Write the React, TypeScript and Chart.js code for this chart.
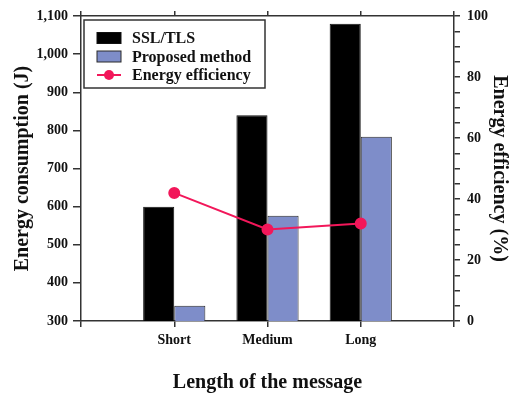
import React, { useEffect, useRef } from "react";
import { Chart, registerables } from "chart.js";

Chart.register(...registerables);

const categories = ["Short", "Medium", "Long"];
const sslTls = [600, 840, 1080];
const proposed = [340, 576, 783];
const efficiency = [42, 30, 32];
const leftTicks = { min: 300, max: 1100, step: 100 };
const rightTicks = { min: 0, max: 100, step: 5, labelEvery: 20 };

const FONT = '"Liberation Serif", "Times New Roman", serif';
const AXIS = "#333333";
const TEXT = "#111111";
const RED = "#F2175A";
const BLUE = "#7E8DC9";

// pad categories with empty slots at each end so the axis runs 0..4
const axisLabels = ["", ...categories, ""];
const pad = (arr: number[]) => [null, ...arr, null];

const insideLegend = {
  id: "insideLegend",
  afterDraw(chart: any) {
    const { ctx, chartArea } = chart;
    const x0 = chartArea.left + 3;
    const y0 = chartArea.top + 4;
    const w = 181;
    const h = 68;
    ctx.save();
    ctx.fillStyle = "#ffffff";
    ctx.fillRect(x0, y0, w, h);
    ctx.strokeStyle = AXIS;
    ctx.lineWidth = 1.5;
    ctx.strokeRect(x0, y0, w, h);
    chart.data.datasets.forEach((ds: any, i: number) => {
      const cy = y0 + 18 + i * 18.5;
      if (ds.type === "line") {
        ctx.strokeStyle = ds.borderColor;
        ctx.lineWidth = 2;
        ctx.beginPath();
        ctx.moveTo(x0 + 13, cy);
        ctx.lineTo(x0 + 37, cy);
        ctx.stroke();
        ctx.fillStyle = ds.pointBackgroundColor;
        ctx.beginPath();
        ctx.arc(x0 + 25, cy, 5, 0, Math.PI * 2);
        ctx.fill();
      } else {
        ctx.fillStyle = ds.backgroundColor;
        ctx.fillRect(x0 + 13, cy - 5.5, 24, 11);
        ctx.strokeStyle = ds.borderColor;
        ctx.lineWidth = 1;
        ctx.strokeRect(x0 + 13, cy - 5.5, 24, 11);
      }
      ctx.fillStyle = TEXT;
      ctx.font = `bold 16px ${FONT}`;
      ctx.textBaseline = "middle";
      ctx.textAlign = "left";
      ctx.fillText(ds.label, x0 + 48, cy + 1);
    });
    ctx.restore();
  },
};

export default function App() {
  const ref = useRef<HTMLCanvasElement | null>(null);

  useEffect(() => {
    if (!ref.current) return;
    const tickFont = { family: FONT, size: 14, weight: "bold" as const };
    const titleFont = { family: FONT, size: 20, weight: "bold" as const };
    const gridBase = {
      drawOnChartArea: false,
      drawTicks: true,
      color: AXIS,
      lineWidth: 1.5,
      offset: false,
    };
    const border = { display: true, color: AXIS, width: 1.5 };

    const chart = new Chart(ref.current, {
      type: "bar",
      data: {
        labels: axisLabels,
        datasets: [
          {
            type: "bar",
            label: "SSL/TLS",
            data: pad(sslTls),
            backgroundColor: "#000000",
            borderColor: "#111111",
            borderWidth: 1,
            borderSkipped: false,
            yAxisID: "y",
            order: 1,
          },
          {
            type: "bar",
            label: "Proposed method",
            data: pad(proposed),
            backgroundColor: BLUE,
            borderColor: "#2a2a2a",
            borderWidth: 1,
            borderSkipped: false,
            yAxisID: "y",
            order: 2,
          },
          {
            type: "line",
            label: "Energy efficiency",
            data: pad(efficiency),
            borderColor: RED,
            backgroundColor: RED,
            pointBackgroundColor: RED,
            pointBorderColor: RED,
            pointRadius: 5,
            borderWidth: 2,
            spanGaps: true,
            yAxisID: "y2",
            order: 0,
          },
        ] as any,
      },
      options: {
        animation: false,
        responsive: true,
        maintainAspectRatio: false,
        layout: { padding: 0 },
        datasets: {
          bar: { categoryPercentage: 0.667, barPercentage: 1 },
        },
        plugins: {
          legend: { display: false },
          tooltip: { enabled: false },
        },
        scales: {
          x: {
            type: "category",
            position: "bottom",
            labels: axisLabels,
            offset: false,
            bounds: "ticks",
            grid: { ...gridBase, tickLength: 6 },
            border,
            ticks: {
              font: tickFont,
              color: TEXT,
              padding: 5,
              maxRotation: 0,
              autoSkip: false,
            },
            title: {
              display: true,
              text: "Length of the message",
              font: titleFont,
              color: TEXT,
              padding: { top: 0, bottom: 0 },
            },
            afterFit: (s: any) => {
              s.height = 74;
            },
          },
          x2: {
            type: "category",
            position: "top",
            labels: axisLabels,
            offset: false,
            bounds: "ticks",
            grid: { ...gridBase, tickLength: 5 },
            border,
            ticks: { callback: () => "", autoSkip: false, maxRotation: 0 },
            afterFit: (s: any) => {
              s.height = 16;
            },
          },
          y: {
            type: "linear",
            position: "left",
            min: leftTicks.min,
            max: leftTicks.max,
            grid: { ...gridBase, tickLength: 8 },
            border,
            ticks: {
              stepSize: leftTicks.step,
              font: tickFont,
              color: TEXT,
              padding: 5,
              autoSkip: false,
              callback: (v: any) => Number(v).toLocaleString("en-US"),
            },
            title: {
              display: true,
              text: "Energy consumption (J)",
              font: titleFont,
              color: TEXT,
              padding: { top: 11, bottom: 0 },
            },
            afterFit: (s: any) => {
              s.width = 81;
            },
          },
          y2: {
            type: "linear",
            position: "right",
            min: rightTicks.min,
            max: rightTicks.max,
            grid: { ...gridBase, tickLength: 6 },
            border,
            ticks: {
              stepSize: rightTicks.step,
              font: tickFont,
              color: TEXT,
              padding: 7,
              autoSkip: false,
              callback: (v: any) =>
                Number(v) % rightTicks.labelEvery === 0 ? String(v) : "",
            },
            title: {
              display: true,
              text: "Energy efficiency (%)",
              font: titleFont,
              color: TEXT,
              padding: { top: 5, bottom: 0 },
            },
            afterFit: (s: any) => {
              s.width = 62;
            },
          },
        },
      } as any,
      plugins: [insideLegend],
    });
    return () => chart.destroy();
  }, []);

  return (
    <div
      style={{
        position: "absolute",
        left: 0,
        top: 0,
        width: 516,
        height: 395,
        background: "#ffffff",
      }}
    >
      <canvas ref={ref} />
    </div>
  );
}
